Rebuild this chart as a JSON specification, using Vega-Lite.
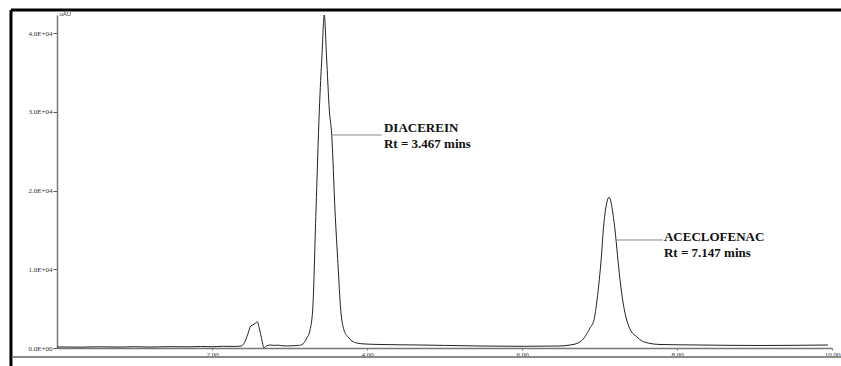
{
  "$schema": "https://vega.github.io/schema/vega-lite/v6.json",
  "width": 775,
  "height": 333,
  "autosize": {"type": "none"},
  "padding": {"left": 57, "top": 15, "right": 9, "bottom": 18},
  "background": "white",
  "config": {"view": {"stroke": null}},
  "datasets": {
    "signal": [
      {"t": 0.00, "a": 130}, {"t": 0.30, "a": 110}, {"t": 0.55, "a": 150}, {"t": 0.80, "a": 120},
      {"t": 1.00, "a": 160}, {"t": 1.20, "a": 120}, {"t": 1.45, "a": 170}, {"t": 1.70, "a": 150},
      {"t": 1.85, "a": 190}, {"t": 2.00, "a": 160}, {"t": 2.15, "a": 220}, {"t": 2.30, "a": 200},
      {"t": 2.38, "a": 260}, {"t": 2.42, "a": 700}, {"t": 2.46, "a": 1700}, {"t": 2.50, "a": 2800},
      {"t": 2.53, "a": 2950}, {"t": 2.56, "a": 3150}, {"t": 2.585, "a": 3340}, {"t": 2.61, "a": 2500},
      {"t": 2.64, "a": 1200}, {"t": 2.67, "a": 20}, {"t": 2.70, "a": 250}, {"t": 2.75, "a": 380},
      {"t": 2.80, "a": 330}, {"t": 2.85, "a": 360}, {"t": 2.90, "a": 290}, {"t": 2.96, "a": 260},
      {"t": 3.02, "a": 280}, {"t": 3.07, "a": 300}, {"t": 3.13, "a": 350}, {"t": 3.16, "a": 420},
      {"t": 3.19, "a": 700}, {"t": 3.226, "a": 1300}, {"t": 3.265, "a": 2290}, {"t": 3.299, "a": 4830},
      {"t": 3.342, "a": 17500}, {"t": 3.385, "a": 30200}, {"t": 3.419, "a": 37200}, {"t": 3.449, "a": 42290},
      {"t": 3.477, "a": 37200}, {"t": 3.514, "a": 30200}, {"t": 3.545, "a": 27050}, {"t": 3.587, "a": 17500},
      {"t": 3.626, "a": 10540}, {"t": 3.661, "a": 4830}, {"t": 3.703, "a": 2290}, {"t": 3.755, "a": 1400},
      {"t": 3.806, "a": 890}, {"t": 3.867, "a": 635}, {"t": 3.974, "a": 510}, {"t": 4.168, "a": 445},
      {"t": 4.684, "a": 380}, {"t": 5.00, "a": 330}, {"t": 5.458, "a": 254}, {"t": 5.974, "a": 216},
      {"t": 6.30, "a": 240}, {"t": 6.49, "a": 254}, {"t": 6.619, "a": 380}, {"t": 6.723, "a": 635},
      {"t": 6.813, "a": 1435}, {"t": 6.877, "a": 2540}, {"t": 6.929, "a": 3560}, {"t": 6.968, "a": 6100},
      {"t": 6.997, "a": 8640}, {"t": 7.026, "a": 11800}, {"t": 7.049, "a": 15000}, {"t": 7.077, "a": 17500},
      {"t": 7.103, "a": 18800}, {"t": 7.123, "a": 19140}, {"t": 7.148, "a": 18540}, {"t": 7.174, "a": 17000},
      {"t": 7.200, "a": 15000}, {"t": 7.232, "a": 11800}, {"t": 7.265, "a": 8640}, {"t": 7.303, "a": 5840},
      {"t": 7.351, "a": 3560}, {"t": 7.406, "a": 2160}, {"t": 7.480, "a": 1435}, {"t": 7.548, "a": 890},
      {"t": 7.626, "a": 635}, {"t": 7.781, "a": 445}, {"t": 8.297, "a": 380}, {"t": 9.071, "a": 318},
      {"t": 9.948, "a": 380}
    ],
    "connectors": [
      {"t": 3.535, "t2": 4.19, "a": 27050},
      {"t": 7.226, "t2": 7.819, "a": 13716}
    ],
    "labels": [
      {"t": 4.219, "a": 27430, "label": "DIACEREIN"},
      {"t": 4.219, "a": 25400, "label": "Rt = 3.467 mins"},
      {"t": 7.832, "a": 13550, "label": "ACECLOFENAC"},
      {"t": 7.832, "a": 11557, "label": "Rt = 7.147 mins"}
    ],
    "frameBlack": [
      {"t": -0.594, "t2": 10.116, "a": 42926, "a2": 42926},
      {"t": -0.594, "t2": -0.594, "a": 42926, "a2": -2286}
    ],
    "frameGray": [
      {"t": -0.57, "t2": 10.116, "a": -1143, "a2": -1143}
    ]
  },
  "layer": [
    {
      "data": {"name": "signal"},
      "mark": {"type": "line", "color": "#222222", "strokeWidth": 1, "interpolate": "monotone"},
      "encoding": {
        "x": {
          "field": "t", "type": "quantitative",
          "scale": {"domain": [0, 10], "nice": false, "zero": false},
          "axis": {
            "title": null, "values": [2, 4, 6, 8, 10], "format": ".2f",
            "labelFont": "Liberation Serif", "labelFontSize": 7, "labelColor": "#333333",
            "labelPadding": 0, "tickSize": 2, "tickColor": "#777777",
            "domainColor": "#777777", "domainWidth": 1.5, "grid": false, "labelFlush": false
          }
        },
        "y": {
          "field": "a", "type": "quantitative",
          "scale": {"domain": [0, 42286], "nice": false},
          "axis": {
            "title": "uAU", "titleAngle": 0, "titleX": 2, "titleY": 1,
            "titleAlign": "left", "titleBaseline": "bottom",
            "titleFont": "Liberation Sans", "titleFontSize": 6, "titleFontWeight": "normal", "titleColor": "#333333",
            "values": [0, 10000, 20000, 30000, 40000],
            "labelExpr": "datum.value == 0 ? '0.0E+00' : format(datum.value / 10000, '.1f') + 'E+04'",
            "labelFont": "Liberation Serif", "labelFontSize": 7, "labelColor": "#333333",
            "labelPadding": 1, "tickSize": 4, "tickColor": "#555555",
            "domainColor": "#777777", "domainWidth": 1.5, "grid": false
          }
        }
      }
    },
    {
      "data": {"name": "frameBlack"},
      "mark": {"type": "rule", "color": "#000000", "strokeWidth": 3, "clip": false},
      "encoding": {
        "x": {"field": "t", "type": "quantitative"},
        "x2": {"field": "t2"},
        "y": {"field": "a", "type": "quantitative"},
        "y2": {"field": "a2"}
      }
    },
    {
      "data": {"name": "frameGray"},
      "mark": {"type": "rule", "color": "#8a8a8a", "strokeWidth": 2, "clip": false},
      "encoding": {
        "x": {"field": "t", "type": "quantitative"},
        "x2": {"field": "t2"},
        "y": {"field": "a", "type": "quantitative"},
        "y2": {"field": "a2"}
      }
    },
    {
      "data": {"name": "connectors"},
      "mark": {"type": "rule", "color": "#888888", "strokeWidth": 1},
      "encoding": {
        "x": {"field": "t", "type": "quantitative"},
        "x2": {"field": "t2"},
        "y": {"field": "a", "type": "quantitative"}
      }
    },
    {
      "data": {"name": "labels"},
      "mark": {"type": "text", "align": "left", "baseline": "alphabetic", "font": "Liberation Serif", "fontWeight": "bold", "fontSize": 13, "color": "#111111"},
      "encoding": {
        "x": {"field": "t", "type": "quantitative"},
        "y": {"field": "a", "type": "quantitative"},
        "text": {"field": "label"}
      }
    }
  ]
}
